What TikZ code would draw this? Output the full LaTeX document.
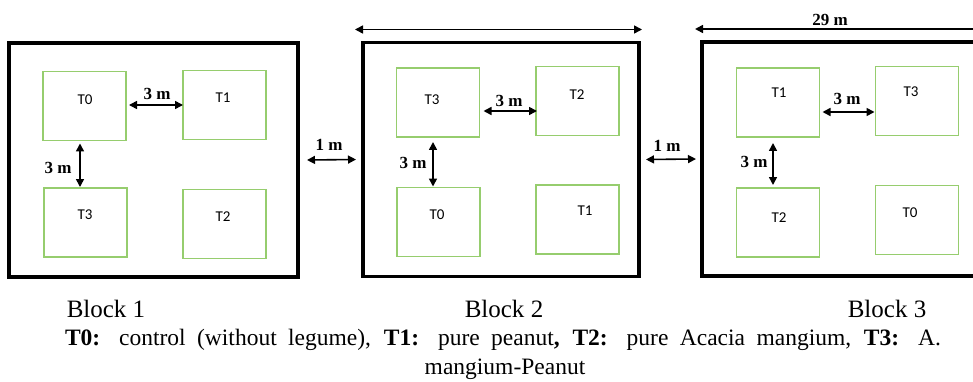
\documentclass[tikz,border=0pt]{standalone}
\usepackage{fontspec}
\setmainfont{Liberation Serif}
\newfontfamily\calib{Carlito}
\usetikzlibrary{arrows.meta}
\definecolor{plotgreen}{RGB}{150,205,110}
\tikzset{
  blockbox/.style={draw=black,line width=3.5pt,minimum width=#1,minimum height=234pt,inner sep=0pt,outer sep=0pt},
  plotbox/.style={draw=plotgreen,line width=1.4pt,minimum width=83pt,minimum height=69pt,inner sep=0pt,outer sep=0pt},
  tlabel/.style={font=\calib\fontsize{15}{15}\selectfont,inner sep=0pt},
  mlabel/.style={font=\bfseries\fontsize{17}{17}\selectfont,inner sep=0pt},
  dim/.style={line width=1.6pt,{Triangle[length=8pt,width=8pt]}-{Triangle[length=8pt,width=8pt]}},
  ldim/.style={line width=1.6pt,{Triangle[length=8pt,width=8pt]}-},
  blabel/.style={font=\fontsize{25}{25}\selectfont,inner sep=0pt,anchor=base},
  clabel/.style={font=\fontsize{23.5}{23.5}\selectfont,inner sep=0pt,anchor=base},
}
\begin{document}
\begin{tikzpicture}[x=1pt,y=-1pt]
\useasboundingbox (0,0) rectangle (973,382);
% outer blocks
\node[blockbox=289pt] (blk1) at (153.5,160) {};
\node[blockbox=276pt] (blk2) at (501,159.5) {};
\node[blockbox=276pt] (blk3) at (840,159) {};
% block 1 plots
\node[plotbox] (a0) at (84.5,106) {};
\node[plotbox] (a1) at (224.5,105) {};
\node[plotbox] (a3) at (85.5,222.5) {};
\node[plotbox] (a2) at (224.5,224) {};
\node[tlabel] (la0) at (85,100) {T0};
\node[tlabel] (la1) at (223,98) {T1};
\node[tlabel] (la3) at (85,215) {T3};
\node[tlabel] (la2) at (223,217) {T2};
% block 2 plots
\node[plotbox] (b3) at (438,102.5) {};
\node[plotbox] (b2) at (577.5,101) {};
\node[plotbox] (b0) at (438.5,222) {};
\node[plotbox] (b1) at (577.5,219.5) {};
\node[tlabel] (lb3) at (432,100) {T3};
\node[tlabel] (lb2) at (577,95) {T2};
\node[tlabel] (lb0) at (437,215) {T0};
\node[tlabel] (lb1) at (585,211) {T1};
% block 3 plots
\node[plotbox] (c1) at (778,102.5) {};
\node[plotbox] (c3) at (917,101) {};
\node[plotbox] (c2) at (778,222.5) {};
\node[plotbox] (c0) at (917,220) {};
\node[tlabel] (lc1) at (779,93) {T1};
\node[tlabel] (lc3) at (911,92) {T3};
\node[tlabel] (lc2) at (779,218) {T2};
\node[tlabel] (lc0) at (910,213) {T0};
% 3 m arrows
\draw[dim] ([xshift=3pt,yshift=1pt]a0.east) -- ([yshift=1pt]a0.east -| a1.west);
\draw[dim] ([xshift=-4.5pt,yshift=-3pt]a0.south) -- ([xshift=-4.5pt,yshift=1pt]a0.south |- a3.north);
\draw[dim] ([xshift=4pt,yshift=-8.5pt]b3.east) -- ([yshift=-8.5pt,xshift=1pt]b3.east -| b2.west);
\draw[dim] ([xshift=-5pt,yshift=-5pt]b3.south) -- ([xshift=-5pt,yshift=1pt]b3.south |- b0.north);
\draw[dim] ([xshift=3pt,yshift=-9.5pt]c1.east) -- ([yshift=-9.5pt,xshift=-1pt]c1.east -| c3.west);
\draw[dim] ([xshift=-5pt,yshift=-6pt]c1.south) -- ([xshift=-5pt,yshift=3pt]c1.south |- c2.north);
\node[mlabel] (ma1) at (157,94) {3 m};
\node[mlabel] (ma2) at (58,168) {3 m};
\node[mlabel] (mb1) at (509,101) {3 m};
\node[mlabel] (mb2) at (413,163) {3 m};
\node[mlabel] (mc1) at (847,99) {3 m};
\node[mlabel] (mc2) at (754,162) {3 m};
% 1 m arrows
\draw[dim] ([xshift=9pt]blk1.east) -- ([xshift=-7pt]blk2.west);
\draw[dim] ([xshift=7pt]blk2.east) -- ([xshift=-6pt]blk3.west);
\node[mlabel] (m12) at (329,145) {1 m};
\node[mlabel] (m23) at (667,146) {1 m};
% top dimension arrows
\coordinate (d2l) at ([xshift=-8pt,yshift=13pt]blk2.north west);
\coordinate (d2r) at ([xshift=3pt,yshift=13pt]blk2.north east);
\draw[dim] (d2l) -- (d2r);
\coordinate (d3l) at ([xshift=-7pt,yshift=13pt]blk3.north west);
\coordinate (d3r) at (973,29);
\draw[ldim] (d3l) -- (d3r);
\node[mlabel] (m29) at (830,20) {29 m};
% block labels
\node[blabel] (bl1) at (106,317) {Block 1};
\node[blabel] (bl2) at (504,317) {Block 2};
\node[blabel] (bl3) at (887,317) {Block 3};
% caption
\node[clabel] (cap1) at (503,345) {\makebox[876pt][s]{\textbf{T0:} control (without legume), \textbf{T1:} pure peanut\textbf{, T2:} pure Acacia mangium, \textbf{T3:} A.}};
\node[clabel] (cap2) at (505,374) {mangium-Peanut};
\end{tikzpicture}
\end{document}
